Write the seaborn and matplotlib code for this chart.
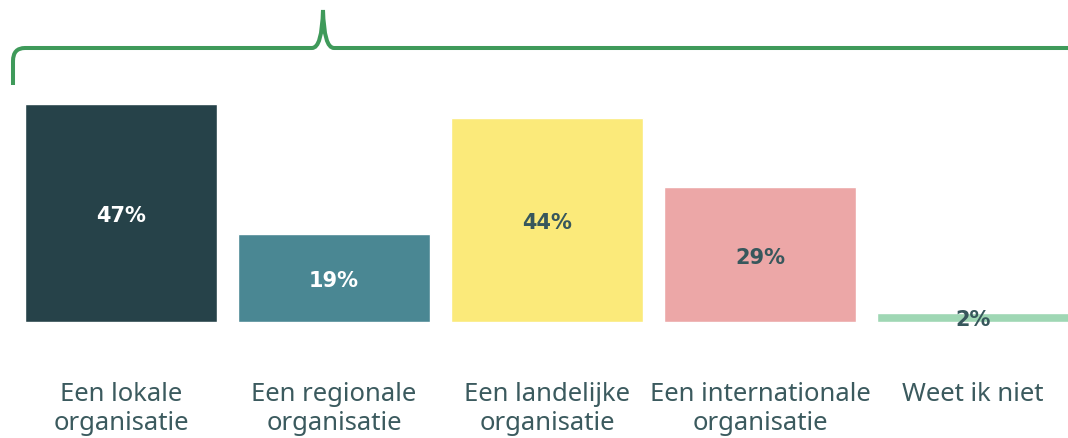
import matplotlib.pyplot as plt
import seaborn as sns
from matplotlib.path import Path
from matplotlib.patches import PathPatch

categories = [
    "Een lokale\norganisatie",
    "Een regionale\norganisatie",
    "Een landelijke\norganisatie",
    "Een internationale\norganisatie",
    "Weet ik niet",
]
values = [47, 19, 44, 29, 2]
bar_colors = ["#264249", "#4a8793", "#fbea7a", "#eca7a7", "#9fd7b4"]
label_colors = ["white", "white", "#37575c", "#37575c", "#37575c"]

sns.set_style("white")
plt.rcParams["font.family"] = ["Noto Sans", "DejaVu Sans"]

fig = plt.figure(figsize=(10.68, 4.39), dpi=100)
ax = fig.add_axes([0, 116 / 439, 1, 323 / 439])

sns.barplot(x=categories, y=values, hue=categories, palette=bar_colors,
            legend=False, width=0.9, saturation=1, ax=ax)

for i, v in enumerate(values):
    ax.text(i, v / 2, f"{v}%", ha="center", va="center_baseline", fontsize=15,
            fontweight="bold", family="DejaVu Sans", color=label_colors[i],
            clip_on=False)

ax.set_xlim(-121 / 213, (1068 - 121) / 213)
ax.set_ylim(0, 323 / 4.64)
ax.set_yticks([])
ax.set_ylabel("")
ax.tick_params(axis="x", length=0, pad=42.5, labelsize=18.5, labelcolor="#3b5a5e")
for lbl in ax.get_xticklabels():
    lbl.set_linespacing(1.22)
sns.despine(ax=ax, left=True, bottom=True)

# accolade boven de staven (in pixels, omgezet naar figuurcoordinaten)
pts = [(13, 86), (13, 62), (13, 49), (25, 49), (312, 49), (322, 49), (323, 11),
       (324, 49), (334, 49), (1070, 49)]
codes = [Path.MOVETO, Path.LINETO, Path.CURVE3, Path.CURVE3, Path.LINETO,
         Path.CURVE3, Path.CURVE3, Path.CURVE3, Path.CURVE3, Path.LINETO]
verts = [(x / 1068, 1 - y / 439) for x, y in pts]
brace = PathPatch(Path(verts, codes), transform=fig.transFigure, fill=False,
                  edgecolor="#3f9a5a", linewidth=2.9, capstyle="butt")
fig.patches.append(brace)

plt.savefig("out.png", dpi=100)
